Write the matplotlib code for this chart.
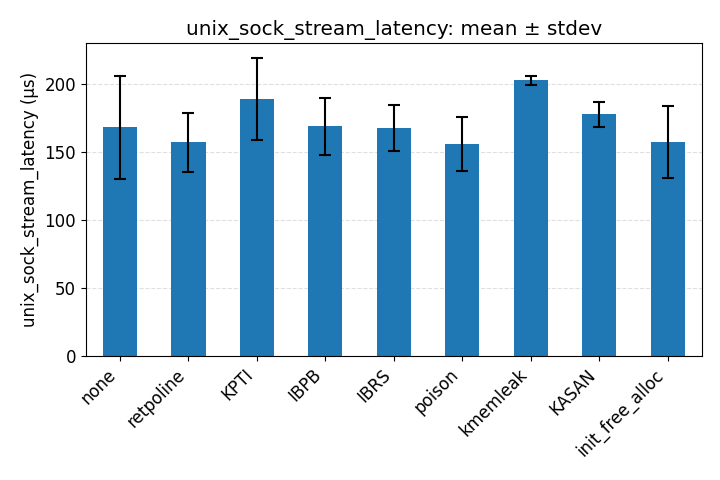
import matplotlib
matplotlib.use("Agg")
import matplotlib.pyplot as plt

plt.rcParams["font.size"] = 12

# configuraciones del kernel
configs = ["none", "retpoline", "KPTI", "IBPB", "IBRS", "poison",
           "kmemleak", "KASAN", "init_free_alloc"]
means = [168.4, 157.4, 189.0, 169.1, 167.6, 155.9, 202.9, 177.9, 157.4]
stdevs = [37.9, 21.7, 30.2, 20.8, 16.9, 19.9, 3.4, 9.3, 26.5]

fig, ax = plt.subplots(figsize=(7.2, 4.8), dpi=100)
ax.bar(range(len(configs)), means, width=0.5, yerr=stdevs, capsize=4,
       color="#1f77b4", error_kw={"elinewidth": 1.5, "capthick": 1.5})
ax.set_xticks(range(len(configs)))
ax.set_xticklabels(configs, rotation=45, ha="right")
ax.set_xlim(-0.5, len(configs) - 0.5)
ax.set_ylabel("unix_sock_stream_latency (µs)")
ax.set_title("unix_sock_stream_latency: mean ± stdev")
ax.grid(True, axis="y", linestyle="--", alpha=0.4)
ax.set_axisbelow(True)
fig.subplots_adjust(left=0.119, right=0.975, top=0.91, bottom=0.258)
plt.savefig("out.png")
